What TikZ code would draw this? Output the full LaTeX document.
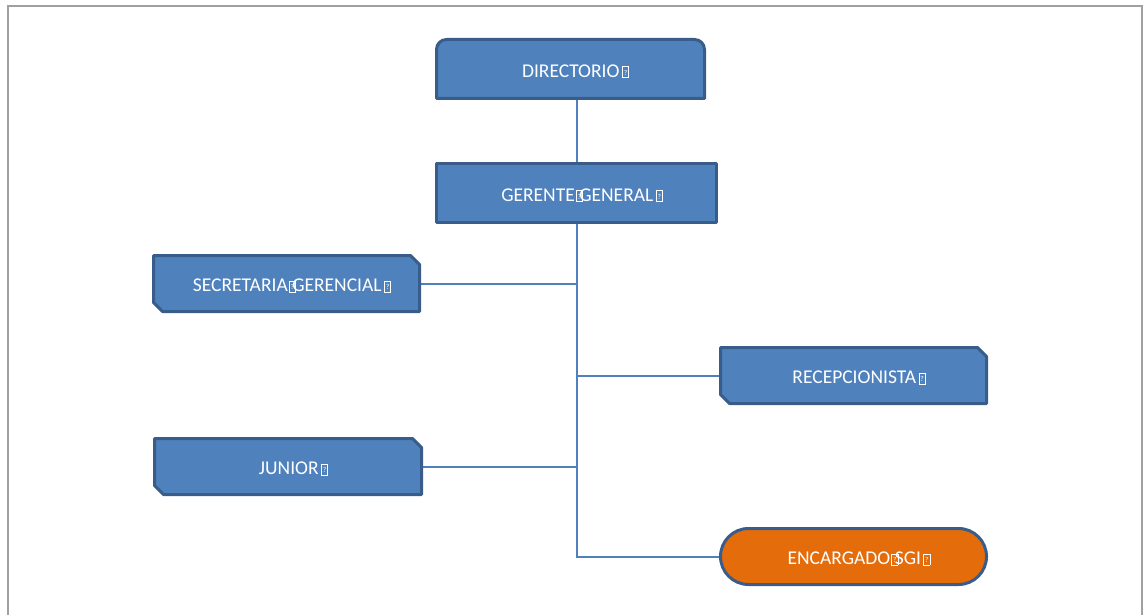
\documentclass[tikz,border=0pt]{standalone}
\usepackage{fontspec}
\setmainfont{Carlito}
\usetikzlibrary{backgrounds}
\definecolor{fillblue}{HTML}{4F81BD}
\definecolor{edgeblue}{HTML}{385D8A}
\definecolor{fillorange}{HTML}{E46C0A}
\definecolor{framegray}{HTML}{A0A0A0}
\newcommand{\mgbox}{\setlength{\fboxsep}{0pt}\setlength{\fboxrule}{0.7pt}\fbox{\makebox[5.5pt]{\rule{0pt}{10.5pt}\raisebox{2pt}{\fontsize{7.5}{7.5}\selectfont ?}}}}
\newcommand{\mgin}{\makebox[4.5pt][l]{\kern1pt\mgbox}}
\newcommand{\mgend}{\kern2.5pt\mgbox}
\begin{document}
\begin{tikzpicture}[x=1pt,y=-1pt,
  slot/.style={inner sep=0pt, outer sep=0pt, text=white,
    font=\fontsize{19.5}{22}\selectfont, text height=16.6pt, text depth=0pt},
  shapefill/.style={draw=edgeblue, line width=3pt, fill=fillblue, line join=round},
  orangefill/.style={draw=edgeblue, line width=3pt, fill=fillorange},
  link/.style={draw=fillblue, line width=2pt},
  framing/.style={draw=framegray, line width=1.5pt}]
\useasboundingbox (0,0) rectangle (1143,615);
\draw[framing] (8,630) -- (8,6) -- (1142,6) -- (1142,630);

\node[slot, minimum width=268pt, minimum height=59pt] (dir) at (570.5,69) {\hspace*{10pt}DIRECTORIO\mgend};
\node[slot, minimum width=280pt, minimum height=59pt] (ger) at (576.5,193) {\hspace*{11pt}GERENTE\mgin GENERAL\mgend};
\node[slot, minimum width=266pt, minimum height=56pt] (sec) at (286.5,283.5) {\hspace*{11pt}SECRETARIA\mgin GERENCIAL\mgend};
\node[slot, minimum width=266pt, minimum height=56pt] (rec) at (853.5,375.5) {\hspace*{11pt}RECEPCIONISTA\mgend};
\node[slot, minimum width=267pt, minimum height=56pt] (jun) at (288,466.5) {\hspace*{11pt}JUNIOR\mgend};
\node[slot, minimum width=266pt, minimum height=56pt] (enc) at (853.5,556.5) {\hspace*{11pt}ENCARGADO\mgin SGI\mgend};

\begin{scope}[on background layer]
  \draw[link] (ger.north) -- (ger.north |- dir.south);
  \draw[link] (ger.south) |- (enc.west);
  \draw[link] (sec.east) -- (sec.east -| ger.south);
  \draw[link] (rec.west) -- (rec.west -| ger.south);
  \draw[link] (jun.east) -- (jun.east -| ger.south);

  \draw[shapefill] (dir.south west) -- ([yshift=-10pt]dir.north west)
     arc[start angle=180, end angle=90, radius=10pt]
     -- ([xshift=-10pt]dir.north east)
     arc[start angle=90, end angle=0, radius=10pt]
     -- (dir.south east) -- cycle;
  \draw[shapefill] (ger.north west) rectangle (ger.south east);
  \foreach \n in {sec,rec,jun}{
    \draw[shapefill] (\n.north west) -- ([xshift=-9pt]\n.north east)
       -- ([yshift=-9pt]\n.north east) -- (\n.south east)
       -- ([xshift=9pt]\n.south west) -- ([yshift=9pt]\n.south west) -- cycle;
  }
  \draw[orangefill, rounded corners=28pt] (enc.north west) rectangle (enc.south east);
\end{scope}
\end{tikzpicture}
\end{document}
